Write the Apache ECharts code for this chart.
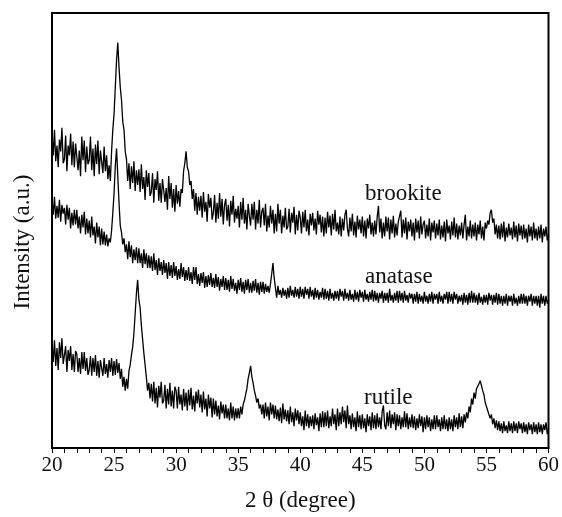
<!DOCTYPE html>
<html>
<head>
<meta charset="utf-8">
<script src="https://cdn.jsdelivr.net/npm/echarts@6/dist/echarts.min.js"></script>
<style>html,body{margin:0;padding:0;background:#fff}#c{width:562px;height:517px}</style>
</head>
<body>
<div id="c"></div>
<script>
// 2θ sampling: start 20°, step 0.1°, one row per degree (x.0 ... x.9), last row = 60.0
var thetaStart = 20, thetaStepTenths = 1;
var xTicks = ['20','25','30','35','40','45','50','55','60'];
var seriesNames = ['brookite','anatase','rutile'];

var brookite = [
[316,296,322,290,306,284,312,300,324,288],
[292,316,280,306,296,318,286,310,284,308],
[309,281,301,275,315,291,311,279,305,287],
[291,315,281,303,275,307,287,311,277,301],
[300,278,305,280,296,272,286,270,300,322],
[338,365,392,410,385,365,352,330,322,300],
[292,270,288,262,285,268,290,260,281,266],
[282,259,287,262,274,251,281,264,278,255],
[259,278,248,272,261,280,250,268,248,272],
[272,249,263,241,275,252,268,243,262,239],
[266,247,260,244,262,258,280,288,300,284],
[280,266,270,252,262,240,258,236,254,240],
[255,233,259,239,249,229,257,243,253,231],
[238,256,228,248,232,258,234,252,226,246],
[252,230,246,224,250,236,255,228,242,232],
[245,223,249,231,253,227,241,221,247,235],
[225,247,231,249,221,241,227,251,223,239],
[243,225,247,219,235,223,245,227,241,217],
[237,219,247,227,241,217,235,223,243,221],
[224,242,218,238,228,244,216,236,220,240],
[233,217,239,223,241,219,231,215,237,225],
[238,220,232,216,240,226,236,218,234,214],
[233,217,239,223,235,215,237,221,241,219],
[228,216,234,214,232,220,236,241,222,214],
[233,219,237,215,229,213,235,221,231,217],
[234,214,230,212,232,222,236,216,228,214],
[230,216,234,245,218,232,212,228,214,234],
[219,233,211,231,217,235,213,227,215,229],
[227,240,213,231,217,233,211,229,219,231],
[214,228,210,232,218,230,212,234,216,226],
[230,212,226,214,232,210,228,218,230,212],
[227,215,231,211,225,213,229,209,231,217],
[225,211,229,215,233,213,227,211,225,215],
[228,212,226,236,210,224,214,230,212,226],
[214,228,210,226,216,230,212,224,210,228],
[222,230,226,238,241,228,232,216,226,212],
[225,211,227,213,229,209,223,213,227,215],
[223,211,229,213,225,209,227,215,225,211],
[226,212,222,208,226,214,224,210,228,212],
[222,210,224,212,226,208,222,214,224,210],
[216]
];

var anatase = [
[250,236,254,232,245,233,251,229,246,237],
[243,226,246,231,243,222,238,225,241,226],
[241,222,234,217,236,223,239,216,232,217],
[230,213,234,215,224,207,228,213,224,205],
[222,206,219,205,216,204,212,208,220,238],
[258,285,303,275,248,225,218,206,212,198],
[206,191,209,193,205,187,201,190,203,187],
[202,187,197,182,201,186,197,182,195,182],
[194,179,197,180,190,175,192,179,188,175],
[190,177,187,171,188,174,185,172,188,174],
[184,170,181,171,187,173,183,169,180,170],
[183,169,178,166,183,170,183,166,176,164],
[177,167,178,162,174,163,175,165,177,163],
[172,162,176,163,173,159,171,163,174,160],
[172,160,170,158,174,161,171,159,167,156],
[170,160,172,158,168,156,170,160,171,157],
[167,157,169,159,171,157,167,155,168,158],
[168,156,166,158,164,157,166,176,187,172],
[162,152,164,155,160,152,162,154,160,151],
[162,152,164,154,160,152,163,153,161,151],
[163,153,161,151,163,155,161,151,163,153],
[160,150,162,152,160,150,158,152,162,150],
[161,151,159,149,161,151,157,149,159,151],
[159,149,161,153,159,149,161,151,157,149],
[160,150,156,148,160,150,158,148,160,152],
[158,148,160,150,156,148,158,150,160,148],
[159,149,157,147,157,151,159,147,157,149],
[157,147,161,149,155,147,157,149,159,147],
[159,149,157,147,159,149,155,147,157,151],
[156,146,156,148,158,146,156,148,154,146],
[158,148,154,146,156,148,158,146,156,150],
[156,146,158,148,154,146,156,150,158,146],
[158,148,156,146,158,150,156,146,154,148],
[155,145,157,147,155,145,157,147,159,147],
[157,147,155,145,157,147,153,145,155,147],
[155,145,157,149,155,145,155,147,157,145],
[156,146,154,144,154,146,156,144,154,148],
[154,144,156,146,152,144,154,146,156,146],
[156,146,154,144,154,148,156,144,154,146],
[154,144,154,142,156,146,154,144,154,146],
[150]
];

var rutile = [
[105,87,109,83,101,79,107,91,111,85],
[86,103,77,99,88,103,79,95,77,98],
[95,77,91,75,97,80,97,78,91,74],
[79,93,73,91,77,94,73,88,71,89],
[89,73,91,75,85,71,89,77,91,73],
[88,74,90,76,86,70,80,62,72,58],
[70,60,78,84,94,102,116,136,156,170],
[150,142,124,110,96,84,72,58,66,50],
[65,47,67,45,61,41,63,51,67,45],
[48,64,40,60,44,66,42,58,40,62],
[58,40,62,44,54,38,60,42,56,38],
[59,43,61,39,53,37,57,45,59,41],
[54,36,57,39,50,32,54,40,51,31],
[50,34,48,32,43,29,47,35,44,30],
[44,30,40,28,46,30,42,28,40,30],
[40,30,42,34,44,48,54,60,70,76],
[83,72,66,58,53,46,50,40,44,34],
[44,30,46,32,42,28,46,34,44,30],
[43,29,39,27,41,25,45,29,39,27],
[38,24,42,26,36,22,40,28,38,24],
[36,22,32,18,38,22,34,20,32,22],
[33,19,35,23,31,17,35,21,37,21],
[36,22,38,20,32,22,40,24,34,18],
[40,22,36,24,42,26,38,20,43,24],
[33,19,35,21,31,17,37,21,33,19],
[34,20,30,16,34,22,32,18,36,20],
[33,19,35,21,31,19,37,43,23,19],
[36,22,38,20,34,24,36,18,34,22],
[33,19,31,21,37,21,35,19,31,21],
[34,20,32,18,30,20,34,22,32,16],
[31,19,33,21,31,17,29,19,33,19],
[33,21,29,17,31,19,33,19,29,17],
[31,19,29,17,33,21,31,19,35,21],
[32,20,34,26,36,30,42,36,50,44],
[56,50,60,58,65,68,70,58,54,46],
[48,38,40,30,34,24,30,20,28,18],
[27,17,25,15,27,17,23,15,27,17],
[25,15,27,17,25,15,27,19,25,15],
[26,16,24,14,26,18,24,14,26,16],
[24,14,26,16,24,14,24,18,26,14],
[20]
];

function toPairs(rows) {
  var flat = [].concat.apply([], rows);
  return flat.map(function (v, i) {
    return [(thetaStart * 10 + i * thetaStepTenths) / 10, v];
  });
}

var serif = '"Liberation Serif", "DejaVu Serif", serif';
var chart = echarts.init(document.getElementById('c'), null, {renderer: 'canvas'});
var dataSets = [brookite, anatase, rutile];

chart.setOption({
  animation: false,
  backgroundColor: '#ffffff',
  grid: {left: 52, right: 12, top: 13, bottom: 64, show: true, borderColor: '#000', borderWidth: 2, backgroundColor: 'transparent'},
  xAxis: {
    type: 'value', min: 20, max: 60, interval: 5,
    axisLine: {show: true, onZero: false, lineStyle: {color: '#000', width: 2}},
    axisTick: {show: true, inside: false, length: 5, lineStyle: {color: '#000', width: 1}},
    minorTick: {show: true, splitNumber: 5, length: 5, lineStyle: {color: '#000', width: 1}},
    splitLine: {show: false},
    axisLabel: {
      margin: 7, color: '#111', fontSize: 21, fontFamily: serif,
      formatter: function (v) { var s = String(v); return xTicks.indexOf(s) >= 0 ? s : ''; }
    },
    name: '2 θ (degree)', nameLocation: 'middle', nameGap: 41,
    nameTextStyle: {color: '#111', fontSize: 23, fontFamily: serif}
  },
  yAxis: {
    type: 'value', min: 0, max: 440,
    axisLine: {show: true, lineStyle: {color: '#000', width: 2}},
    axisTick: {show: false}, axisLabel: {show: false}, splitLine: {show: false}
  },
  graphic: [
    {type: 'text', x: 23, y: 242, rotation: Math.PI / 2, style: {text: 'Intensity (a.u.)', fill: '#111', font: '23px ' + serif, textAlign: 'center', textVerticalAlign: 'middle'}},
    {type: 'text', x: 365, y: 194, style: {text: seriesNames[0], fill: '#111', font: '23px ' + serif, textAlign: 'left', textVerticalAlign: 'middle'}},
    {type: 'text', x: 365, y: 277, style: {text: seriesNames[1], fill: '#111', font: '23px ' + serif, textAlign: 'left', textVerticalAlign: 'middle'}},
    {type: 'text', x: 364, y: 398, style: {text: seriesNames[2], fill: '#111', font: '23px ' + serif, textAlign: 'left', textVerticalAlign: 'middle'}}
  ],
  series: dataSets.map(function (rows, k) {
    return {
      name: seriesNames[k], type: 'line', data: toPairs(rows),
      showSymbol: false, symbol: 'none', silent: true,
      lineStyle: {color: '#000', width: 1.3}
    };
  })
});
</script>
</body>
</html>
